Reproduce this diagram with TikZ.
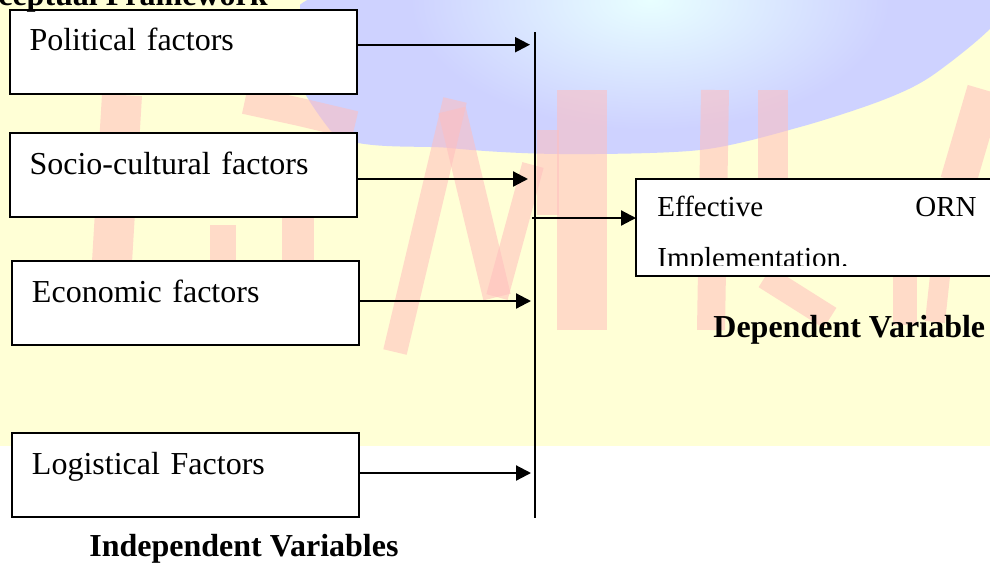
\documentclass[tikz,border=0pt]{standalone}
\usepackage{fontspec}
\setmainfont{Liberation Serif}
\usetikzlibrary{arrows.meta}

\definecolor{wmyellow}{RGB}{255,255,214}
\definecolor{wmblue}{RGB}{206,210,255}
\definecolor{wmcyan}{RGB}{232,255,255}
\definecolor{wmpink}{RGB}{255,190,190}

\tikzset{
  factor/.style={draw, line width=1pt, fill=white, anchor=north west, outer sep=0pt,
    inner xsep=10pt, inner ysep=0pt, text width=153.5pt, align=left,
    text height=20.5pt, text depth=21.5pt, font=\fontsize{16}{19}\selectfont},
  cell/.style={inner sep=0pt, font=\fontsize{14.5}{17}\selectfont},
  heading/.style={inner sep=0pt, font=\bfseries\fontsize{16}{19}\selectfont},
  flow/.style={-{Triangle[length=7.5pt,width=7.5pt]}, line width=1.1pt},
  wm/.style={wmpink, opacity=0.55, line cap=butt}
}

\begin{document}
\begin{tikzpicture}[x=0.5pt,y=-0.5pt]
\clip (0,0) rectangle (990,563);

% watermark
\fill [wmyellow] (0,0) rectangle (990,446);
\begin{scope}
\clip plot [smooth cycle] coordinates {(330,-8) (990,-8) (996,22) (933,75) (883,100) (800,127) (700,150) (560,154) (450,148) (330,130)};
\fill [wmblue] (300,-10) rectangle (1000,200);
\shade [inner color=wmcyan, outer color=wmblue] (650,0) ellipse (240 and 130);
\end{scope}
\draw [wm, line width=20pt] (122,95) -- (112,262);
\draw [wm, line width=14pt] (245,100) -- (300,112) -- (355,125);
\draw [wm, line width=13pt] (223,225) -- (223,262);
\draw [wm, line width=16pt] (298,218) -- (298,262);
\draw [wm, line width=12pt] (395,352) -- (455,100);
\draw [wm, line width=14pt] (452,110) -- (497,297);
\draw [wm, line width=11pt] (497,297) -- (533,165);
\draw [wm, line width=11pt] (548,130) -- (548,215);
\draw [wm, line width=25pt] (582,90) -- (582,330);
\draw [wm, line width=14pt] (715,90) -- (711,330);
\draw [wm, line width=15pt] (773,90) -- (773,180);
\draw [wm, line width=12pt] (765,277) -- (830,318);
\draw [wm, line width=12pt] (905,276) -- (905,325);
\draw [wm, line width=10pt] (940,276) -- (935,322);
\draw [wm, line width=18pt] (958,182) -- (985,90);

% independent variables
\node [factor] (pol) at (9.5,9.5) {Political factors};
\node [factor] (soc) at (9.5,133) {Socio-cultural factors};
\node [factor] (eco) at (12,261) {Economic factors};
\node [factor] (log) at (12,433) {Logistical Factors};

\coordinate (bartop) at (535,32);
\coordinate (barbot) at (535,518);
\draw [line width=0.8pt] (bartop) -- (barbot);

\draw [flow, shorten >=2.5pt] ([yshift=3.4pt]pol.east) -- ([yshift=3.4pt]pol.east -| bartop);
\draw [flow, shorten >=3.5pt] ([yshift=-2pt]soc.east) -- ([yshift=-2pt]soc.east -| bartop);
\draw [flow, shorten >=2pt] ([yshift=1pt]eco.east) -- ([yshift=1pt]eco.east -| bartop);
\draw [flow, shorten >=2pt] ([yshift=1pt]log.east) -- ([yshift=1pt]log.east -| bartop);

% dependent variable
\node [draw, line width=1pt, fill=white, anchor=north west, outer sep=0pt, inner sep=0pt,
  minimum width=185pt, minimum height=48.5pt] (orn) at (636,179) {};
\begin{scope}
\clip (636,179) rectangle (990,265.5);
\node [cell, anchor=base west] (eff) at (657,216) {Effective};
\node [cell, anchor=base east] (ornw) at (977,216) {ORN};
\node [cell, anchor=base west] (impl) at (657,267) {Implementation.};
\end{scope}

\coordinate (hub) at (532,218);
\draw [flow] (hub) -- (hub -| orn.west);

\node [heading, anchor=base east] (title) at (268,5) {Conceptual Framework};
\node [heading, anchor=base west] (dep) at (713,337) {Dependent Variable};
\node [heading, anchor=base west] (indep) at (89,556) {Independent Variables};
\end{tikzpicture}
\end{document}
